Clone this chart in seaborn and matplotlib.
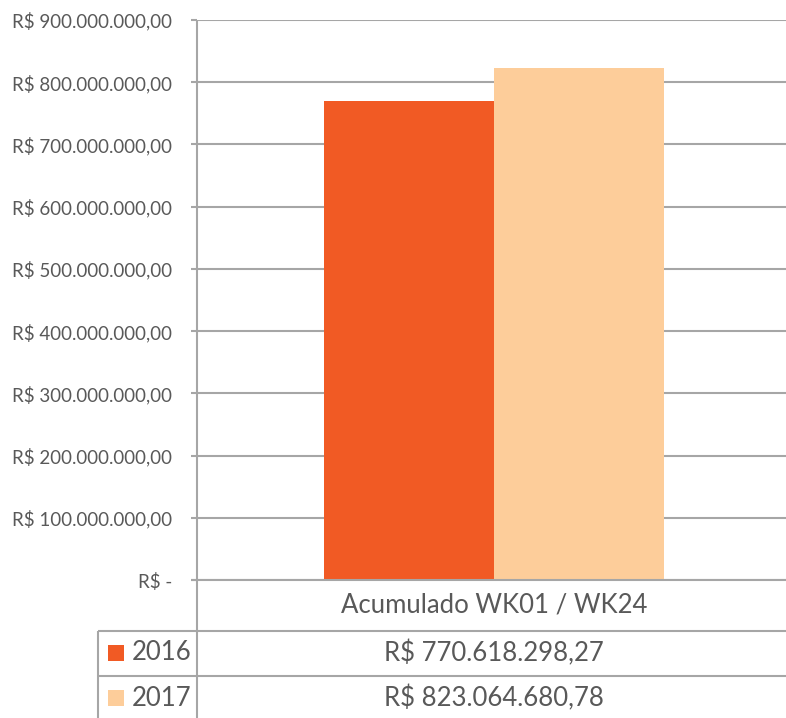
import matplotlib
matplotlib.use("Agg")
import matplotlib.pyplot as plt
import seaborn as sns
import pandas as pd
from matplotlib.lines import Line2D
from matplotlib.patches import Rectangle

category = "Acumulado WK01 / WK24"
years = ["2016", "2017"]
totals = [770618298.27, 823064680.78]
colors = ["#F15A24", "#FDCD9A"]
y_ticks = [0, 100e6, 200e6, 300e6, 400e6, 500e6, 600e6, 700e6, 800e6, 900e6]

GRAY = "#A6A6A6"
TEXT = "#595959"
W, H = 786, 718


def brl(v):
    if v == 0:
        return "R$ -"
    s = f"{v:,.2f}".replace(",", "X").replace(".", ",").replace("X", ".")
    return "R$ " + s


def fx(px):
    return px / W


def fy(py):
    return 1 - py / H


def hline(x0, x1, y):
    fig.add_artist(Line2D([fx(x0), fx(x1)], [fy(y), fy(y)], transform=fig.transFigure,
                          color=GRAY, lw=1.5, solid_capstyle="butt"))


def vline(x, y0, y1):
    fig.add_artist(Line2D([fx(x), fx(x)], [fy(y0), fy(y1)], transform=fig.transFigure,
                          color=GRAY, lw=1.5, solid_capstyle="butt"))


sns.set_style("white")
plt.rcParams["font.family"] = ["Lato", "DejaVu Sans"]

fig = plt.figure(figsize=(W / 100, H / 100), dpi=100)
ax = fig.add_axes([fx(197), fy(580), fx(791) - fx(197), fy(20) - fy(580)])

df = pd.DataFrame({"cat": [category] * len(years), "year": years, "total": totals})
sns.barplot(data=df, x="cat", y="total", hue="year", palette=colors, width=0.572,
            saturation=1, legend=False, linewidth=0, ax=ax)

ax.set_xlim(-0.5, 0.5)
ax.set_ylim(0, 900e6)
ax.set_yticks(y_ticks)
ax.set_yticklabels([brl(v) for v in y_ticks])
ax.yaxis.grid(True, color=GRAY, lw=1.5)
ax.set_axisbelow(True)
ax.set_xlabel("")
ax.set_ylabel("")
ax.tick_params(axis="x", bottom=False, labelbottom=False)
ax.tick_params(axis="y", left=True, length=4.3, width=1.5, color=GRAY, pad=13.5,
               labelsize=13.5, labelcolor=TEXT)
for side in ["top", "right", "bottom", "left"]:
    ax.spines[side].set_visible(False)

# axis lines and data table grid
vline(197, 20, 718)
hline(191, 786, 580)
hline(98, 786, 631)
hline(98, 786, 676)
vline(98, 631, 718)

cx = 494
fig.text(fx(cx), fy(605), category, ha="center", va="center", fontsize=18.5, color=TEXT)
row_y = [653, 698]
for yr, val, col, ry in zip(years, totals, colors, row_y):
    fig.add_artist(Rectangle((fx(108), fy(ry + 8)), fx(16), 16 / H, transform=fig.transFigure,
                             facecolor=col, edgecolor="none"))
    fig.text(fx(132), fy(ry), yr, ha="left", va="center", fontsize=18.5, color=TEXT)
    fig.text(fx(cx), fy(ry), brl(val), ha="center", va="center", fontsize=18.5, color=TEXT)

fig.savefig("out.png", dpi=100)
